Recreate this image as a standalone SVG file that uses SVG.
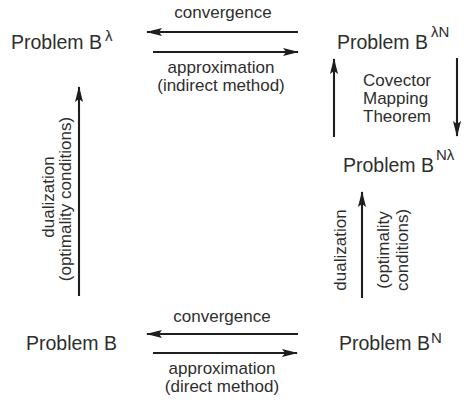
<svg xmlns="http://www.w3.org/2000/svg" width="464" height="400" viewBox="0 0 464 400">
<defs>
<style>
text{font-family:"Liberation Sans",Arial,sans-serif;fill:#2e2e2e}
.pb{font-size:19.5px}
.sup{font-size:15px}
.lab{font-size:17px}
.c{text-anchor:middle}
.ar{stroke:#1e1e1e;stroke-width:2.1;fill:none}
</style>
<marker id="ah" viewBox="0 0 16 8" refX="15" refY="4" markerWidth="16" markerHeight="8" markerUnits="userSpaceOnUse" orient="auto">
<path d="M0,0 L16,4 L0,8 L3,4 Z" fill="#1e1e1e"/>
</marker>
</defs>
<rect width="464" height="400" fill="#ffffff"/>
<g id="connectors">
<line class="ar" x1="298" y1="32" x2="147" y2="32" marker-end="url(#ah)"/>
<line class="ar" x1="153" y1="52" x2="298" y2="52" marker-end="url(#ah)"/>
<line class="ar" x1="298" y1="334" x2="147" y2="334" marker-end="url(#ah)"/>
<line class="ar" x1="153" y1="353" x2="297" y2="353" marker-end="url(#ah)"/>
<line class="ar" x1="79" y1="296" x2="79" y2="87" marker-end="url(#ah)"/>
<line class="ar" x1="334" y1="137" x2="334" y2="59" marker-end="url(#ah)"/>
<line class="ar" x1="457" y1="58" x2="457" y2="136" marker-end="url(#ah)"/>
<line class="ar" x1="362" y1="298" x2="362" y2="192" marker-end="url(#ah)"/>
<text class="lab c" x="223" y="18">convergence</text>
<text class="lab c" x="221" y="73">approximation</text>
<text class="lab c" x="221" y="91">(indirect method)</text>
<text class="lab c" x="222" y="322">convergence</text>
<text class="lab c" x="222" y="374">approximation</text>
<text class="lab c" x="222" y="392">(direct method)</text>
<text class="lab" x="363" y="86">Covector</text>
<text class="lab" x="363" y="104">Mapping</text>
<text class="lab" x="363" y="122">Theorem</text>
<text class="lab c" transform="translate(54,197) rotate(-90)">dualization</text>
<text class="lab c" transform="translate(71,199) rotate(-90)">(optimality conditions)</text>
<text class="lab c" transform="translate(346,250) rotate(-90)">dualization</text>
<text class="lab c" transform="translate(389,250) rotate(-90)">(optimality</text>
<text class="lab c" transform="translate(408,250) rotate(-90)">conditions)</text>
</g>
<g id="node-B-lambda">
<text class="pb" x="11" y="49">Problem B</text>
<text class="sup" x="105" y="41">λ</text>
</g>
<g id="node-B-lambdaN">
<text class="pb" x="337" y="49">Problem B</text>
<text class="sup" x="431" y="37">λN</text>
</g>
<g id="node-B-Nlambda">
<text class="pb" x="343" y="172">Problem B</text>
<text class="sup" x="436" y="160">Nλ</text>
</g>
<g id="node-B">
<text class="pb" x="26" y="350">Problem B</text>
</g>
<g id="node-BN">
<text class="pb" x="339" y="350">Problem B</text>
<text class="sup" x="431" y="343">N</text>
</g>
</svg>
